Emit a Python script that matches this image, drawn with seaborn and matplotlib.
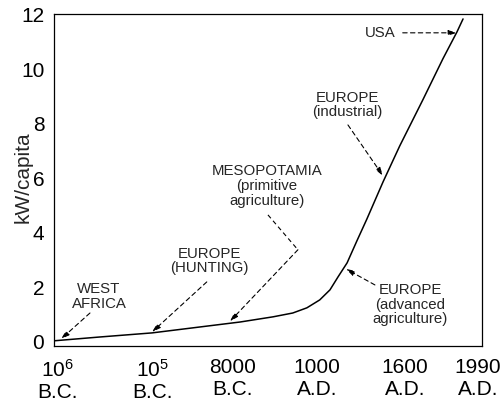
import seaborn as sns
import matplotlib.pyplot as plt

# timeline position (0..100 across the axis, non-linear in time) and power use
timeline = [0.0, 10.7, 22.9, 43.5, 51.2, 55.8, 59.1, 62.1, 64.5, 66.4, 68.5,
            70.8, 73.1, 76.9, 80.8, 86.2, 90.9, 94.2, 95.6]
kw_per_capita = [0.04, 0.18, 0.33, 0.73, 0.92, 1.06, 1.25, 1.54, 1.91, 2.39, 2.90,
                 3.71, 4.50, 5.87, 7.19, 8.88, 10.39, 11.38, 11.85]

tick_pos = [0.9, 23.1, 41.8, 61.4, 82.0, 99.1]
tick_labels = ['$10^6$\nB.C.', '$10^5$\nB.C.', '8000\nB.C.',
               '1000\nA.D.', '1600\nA.D.', '1990\nA.D.']
y_ticks = [0, 2, 4, 6, 8, 10, 12]

# label text, text centre, arrow start, arrow tip
notes = [
    ('USA', (76.2, 11.34), (81.5, 11.34), (94.2, 11.34)),
    ('EUROPE\n(industrial)', (68.5, 8.70), (68.7, 7.96), (76.9, 6.09)),
    ('MESOPOTAMIA\n(primitive\nagriculture)', (49.8, 5.72), (57.0, 3.38), (41.1, 0.75)),
    ('EUROPE\n(HUNTING)', (36.4, 2.97), (35.7, 2.20), (22.9, 0.36)),
    ('WEST\nAFRICA', (10.5, 1.67), (8.4, 1.06), (1.6, 0.10)),
    ('EUROPE\n(advanced\nagriculture)', (83.2, 1.36), (75.0, 2.09), (68.2, 2.68)),
]
# extra leg of the bent Mesopotamia arrow
meso_leg_x = [50.0, 57.0]
meso_leg_y = [4.66, 3.38]

sns.set_style('white')
plt.rcParams['font.family'] = ['Liberation Sans', 'DejaVu Sans']
plt.rcParams['mathtext.fontset'] = 'custom'
plt.rcParams['mathtext.rm'] = 'Liberation Sans'
plt.rcParams['mathtext.it'] = 'Liberation Sans:italic'

fig = plt.figure(figsize=(5.03, 4.04), dpi=100)
ax = fig.add_axes([0.1074, 0.1436, 0.8506, 0.8217])

sns.lineplot(x=timeline, y=kw_per_capita, ax=ax, color='black', lw=1.1)

dash = (0, (4, 3))
ax.plot(meso_leg_x, meso_leg_y, color='black', lw=0.8, ls=dash)
for text, pos, start, tip in notes:
    ax.text(pos[0], pos[1], text, ha='center', va='center', fontsize=10.8,
            linespacing=1.05)
    ax.annotate('', xy=tip, xytext=start,
                arrowprops=dict(arrowstyle='-|>,head_length=0.5,head_width=0.15',
                                color='black', lw=0.8, ls=dash,
                                shrinkA=0, shrinkB=0))

ax.set_xlim(0, 100)
ax.set_ylim(-0.15, 12.03)
ax.set_xticks(tick_pos, tick_labels)
ax.set_yticks(y_ticks)
ax.tick_params(axis='both', length=0, labelsize=15, colors='black')
ax.tick_params(axis='x', pad=9)
ax.tick_params(axis='y', pad=7)
ax.set_ylabel('kW/capita', fontsize=15)
ax.yaxis.set_label_coords(-0.051, 0.507)
ax.set_xlabel('')
for s in ax.spines.values():
    s.set_color('black')
    s.set_linewidth(0.9)

fig.savefig('out.png', dpi=100)
